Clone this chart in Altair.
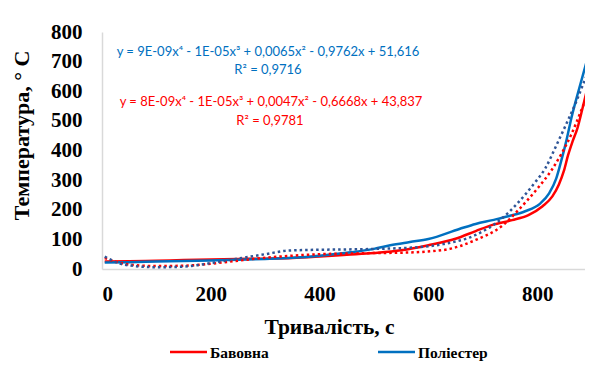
import altair as alt
import pandas as pd

# ---- data ----
cotton_t = [5, 50, 100, 150, 200, 250, 300, 350, 400, 450, 500, 550, 600, 650, 687, 718, 754, 784, 810, 828, 840, 849, 857, 865, 874, 884, 893]
cotton_T = [25, 26, 28, 30, 32, 34, 35, 37, 42, 48, 54, 63, 80, 102, 128, 149, 165, 182, 212, 245, 285, 330, 385, 430, 475, 547, 615]

poly_t = [5, 50, 100, 150, 200, 250, 300, 350, 400, 450, 500, 530, 566, 600, 657, 687, 718, 747, 778, 805, 822, 835, 845, 854, 863, 875, 891]
poly_T = [22, 23, 25, 27, 29, 31, 34, 38, 45, 55, 68, 80, 91, 101, 135, 152, 165, 178, 195, 220, 255, 305, 370, 435, 510, 594, 700]

cotton_fit_t = [5, 30, 60, 100, 150, 200, 250, 300, 350, 400, 450, 505, 550, 627, 687, 738, 766, 802, 827, 845, 863, 881, 893]
cotton_fit_T = [37, 22, 13, 10, 11, 18, 28, 38, 45, 50, 52, 54, 55, 64, 98, 149, 200, 275, 335, 390, 455, 535, 590]

poly_fit_t = [5, 30, 60, 100, 150, 200, 250, 300, 342, 400, 450, 505, 584, 627, 687, 735, 763, 793, 815, 836, 855, 873, 887, 893]
poly_fit_T = [42, 20, 10, 6, 8, 20, 35, 50, 62, 65, 66, 68, 74, 84, 115, 170, 220, 285, 340, 420, 495, 570, 635, 662]

series_names = ["Бавовна", "Поліестер"]
series_colors = ["#FF0000", "#0070C0"]
fit_colors = ["#FF0000", "#2F5597"]

eq_texts = [
    "y = 9E-09x⁴ - 1E-05x³ + 0,0065x² - 0,9762x + 51,616",
    "R² = 0,9716",
    "y = 8E-09x⁴ - 1E-05x³ + 0,0047x² - 0,6668x + 43,837",
    "R² = 0,9781",
]
eq_colors = ["#0070C0", "#0070C0", "#FF0000", "#FF0000"]

y_ticks = [0, 100, 200, 300, 400, 500, 600, 700, 800]
x_ticks = [0, 200, 400, 600, 800]

SERIF = "Liberation Serif, Times New Roman, serif"

solid = pd.concat([
    pd.DataFrame({"t": cotton_t, "T": cotton_T, "s": series_names[0], "o": range(len(cotton_t))}),
    pd.DataFrame({"t": poly_t, "T": poly_T, "s": series_names[1], "o": range(len(poly_t))}),
])
fit_c = pd.DataFrame({"t": cotton_fit_t, "T": cotton_fit_T})
fit_p = pd.DataFrame({"t": poly_fit_t, "T": poly_fit_T})

X_DOM = [0, 888]
xs = alt.Scale(domain=X_DOM, nice=False, zero=False)
ys = alt.Scale(domain=[0, 800], nice=False)

x_axis = alt.Axis(values=x_ticks, title="Тривалість, с", titleX=227, titleY=58,
                  titleBaseline="middle", titleAlign="center", titleFontSize=21.5)
y_axis = alt.Axis(values=y_ticks, title="Температура, ° С", titleX=-81, titleY=103,
                  titleAngle=-90, titleAlign="center", titleBaseline="middle",
                  labelOverlap=False, titleFontSize=22)

X = alt.X("t:Q", scale=xs, axis=x_axis)
Y = alt.Y("T:Q", scale=ys, axis=y_axis)

solid_layer = alt.Chart(solid).mark_line(strokeWidth=2.5, interpolate="monotone", clip=True).encode(
    x=X, y=Y,
    color=alt.Color("s:N", scale=alt.Scale(domain=series_names, range=series_colors), legend=None),
    order="o:Q",
)

fit_c_layer = alt.Chart(fit_c).mark_line(strokeWidth=2.5, strokeDash=[2.5, 3], interpolate="monotone",
                                          color=fit_colors[0], clip=True).encode(x=X, y=Y)
fit_p_layer = alt.Chart(fit_p).mark_line(strokeWidth=2.5, strokeDash=[2.5, 3], interpolate="monotone",
                                          color=fit_colors[1], clip=True).encode(x=X, y=Y)

eq_pos = [(166, 20), (166, 38), (169, 70), (168, 89)]
eq_layers = []
for txt, col, (px, py) in zip(eq_texts, eq_colors, eq_pos):
    eq_layers.append(
        alt.Chart(pd.DataFrame({"a": [txt]})).mark_text(
            font="Lato", fontSize=13, color=col, align="center", baseline="middle"
        ).encode(text="a:N", x=alt.value(px), y=alt.value(py))
    )

# manual legend (line swatch + label)
leg_x = [68, 276]
leg_y = 320
leg_layers = []
for name, col, lx in zip(series_names, series_colors, leg_x):
    leg_layers.append(
        alt.Chart(pd.DataFrame({"a": [name]})).mark_rule(color=col, strokeWidth=2.5).encode(
            x=alt.value(lx), x2=alt.value(lx + 37), y=alt.value(leg_y))
    )
    leg_layers.append(
        alt.Chart(pd.DataFrame({"a": [name]})).mark_text(
            font=SERIF, fontSize=15.5, fontWeight="bold", color="black", align="left", baseline="middle"
        ).encode(text="a:N", x=alt.value(lx + 40), y=alt.value(leg_y + 1))
    )

chart = alt.layer(solid_layer, fit_c_layer, fit_p_layer, *eq_layers, *leg_layers).properties(
    width=483, height=237,
    padding={"left": 94, "top": 24, "right": 0, "bottom": 95},
    autosize="none",
).configure_view(stroke=None).configure_axis(
    grid=False, ticks=False, domainColor="#D9D9D9", domainWidth=1.5,
    labelFont=SERIF, labelFontWeight="bold", labelFontSize=21, labelColor="black",
    titleFont=SERIF, titleFontWeight="bold", titleColor="black",
).configure_axisY(labelPadding=20).configure_axisX(labelPadding=14)

chart.save("out.html", embed_options={"renderer": "svg", "actions": False})
